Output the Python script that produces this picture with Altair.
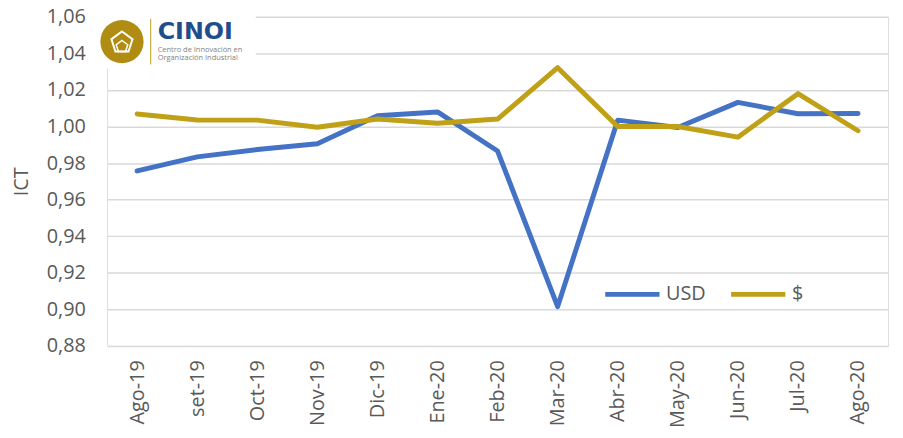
import altair as alt
import pandas as pd

months = ["Ago-19", "set-19", "Oct-19", "Nov-19", "Dic-19", "Ene-20", "Feb-20",
          "Mar-20", "Abr-20", "May-20", "Jun-20", "Jul-20", "Ago-20"]
usd = [0.9757, 0.9834, 0.9874, 0.9906, 1.0059, 1.0080, 0.9866,
       0.9015, 1.0035, 0.9995, 1.0132, 1.0070, 1.0071]
pesos = [1.0069, 1.0036, 1.0035, 0.9996, 1.0041, 1.0018, 1.0041,
         1.0322, 1.0000, 1.0000, 0.9942, 1.0180, 0.9977]
series = ["USD", "$"]
colors = ["#4472C4", "#C0A016"]
logo_lines = ["CINOI", "Centro de Innovación en", "Organización Industrial"]

rows = []
for i, m in enumerate(months):
    rows.append({"mes": m, "serie": "USD", "valor": usd[i]})
    rows.append({"mes": m, "serie": "$", "valor": pesos[i]})
df = pd.DataFrame(rows)

FONT = "Open Sans"
GREY = "#595959"

lines = alt.Chart(df).mark_line(strokeWidth=5, strokeCap="round", strokeJoin="round").encode(
    x=alt.X("mes:N", sort=months, scale=alt.Scale(type="point", padding=0.5),
            axis=alt.Axis(title=None, labelAngle=-90, labelAlign="right", labelBaseline="middle",
                          labelFontSize=20, labelColor=GREY, labelFont=FONT, ticks=False,
                          domain=False, labelPadding=14, grid=False)),
    y=alt.Y("valor:Q", scale=alt.Scale(domain=[0.88, 1.06], nice=False, zero=False),
            axis=alt.Axis(title="ICT", values=[0.88, 0.90, 0.92, 0.94, 0.96, 0.98, 1.00, 1.02, 1.04, 1.06],
                          labelExpr="replace(format(datum.value, '.2f'), '.', ',')",
                          labelFontSize=20, labelColor=GREY, labelFont=FONT, ticks=False, domain=False,
                          labelPadding=22, gridColor="#D9D9D9", gridWidth=1.5,
                          titleFontSize=20, titleFont=FONT, titleColor=GREY, titleFontWeight="normal",
                          titlePadding=15)),
    color=alt.Color("serie:N", scale=alt.Scale(domain=series, range=colors),
                    legend=alt.Legend(title=None, orient="none", legendX=500, legendY=250,
                                      direction="horizontal", symbolType="stroke", symbolSize=3000,
                                      symbolStrokeWidth=5, labelFontSize=20, labelFont=FONT,
                                      labelColor=GREY, columnPadding=14, labelOffset=4)),
)

one = pd.DataFrame({"a": [0]})
logo_bg = alt.Chart(one).mark_rect(color="white").encode(
    x=alt.value(-8), x2=alt.value(150), y=alt.value(-6), y2=alt.value(52))
logo_circle = alt.Chart(one).mark_point(
    shape="circle", filled=True, color="#B08D12", size=1900, opacity=1).encode(
    x=alt.value(15), y=alt.value(25))
logo_penta = alt.Chart(one).mark_point(
    shape="M0,-1L0.95,-0.31L0.59,0.81L-0.59,0.81L-0.95,-0.31Z", filled=False,
    stroke="white", strokeWidth=2, size=500, opacity=1).encode(
    x=alt.value(15), y=alt.value(26))
logo_penta2 = alt.Chart(one).mark_point(
    shape="M0,-1L0.95,-0.31L0.59,0.81L-0.59,0.81L-0.95,-0.31Z", filled=False,
    stroke="white", strokeWidth=1.5, size=150, opacity=1).encode(
    x=alt.value(15), y=alt.value(30))
logo_bar = alt.Chart(one).mark_rule(color="#C0A016", strokeWidth=1).encode(
    x=alt.value(44), y=alt.value(2), y2=alt.value(48))
logo_title = alt.Chart(pd.DataFrame({"t": [logo_lines[0]]})).mark_text(
    align="left", baseline="alphabetic", font="DejaVu Sans", fontSize=24, fontWeight="bold",
    color="#1F4E8C").encode(x=alt.value(51), y=alt.value(22), text="t:N")
logo_sub1 = alt.Chart(pd.DataFrame({"t": [logo_lines[1]]})).mark_text(
    align="left", baseline="alphabetic", font=FONT, fontSize=7.5, color="#7F7F7F").encode(
    x=alt.value(51), y=alt.value(35), text="t:N")
logo_sub2 = alt.Chart(pd.DataFrame({"t": [logo_lines[2]]})).mark_text(
    align="left", baseline="alphabetic", font=FONT, fontSize=7.5, color="#7F7F7F").encode(
    x=alt.value(51), y=alt.value(44), text="t:N")

chart = alt.layer(lines, logo_bg, logo_circle, logo_penta, logo_penta2, logo_bar,
                  logo_title, logo_sub1, logo_sub2).properties(
    width=788, height=332, autosize=alt.AutoSizeParams(type="none"),
    padding={"left": 100, "top": 7, "right": 7, "bottom": 91}
).configure_view(stroke=None).configure(font=FONT)

chart.save("out.html", embed_options={"renderer": "svg", "actions": False})
